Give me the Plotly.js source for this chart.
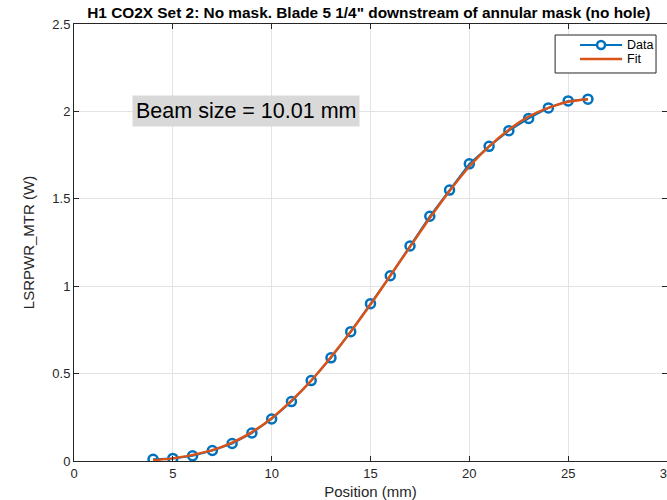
<!DOCTYPE html>
<html>
<head>
<meta charset="utf-8">
<script src="https://cdn.plot.ly/plotly-3.0.1.min.js"></script>
<style>html,body{margin:0;padding:0;background:#fff;}#chart{width:667px;height:500px;}</style>
</head>
<body>
<div id="chart"></div>
<script>
const positions = [4,5,6,7,8,9,10,11,12,13,14,15,16,17,18,19,20,21,22,23,24,25,26];
const dataValues = [0.01,0.015,0.03,0.06,0.10,0.16,0.24,0.34,0.46,0.59,0.74,0.90,1.06,1.23,1.40,1.55,1.70,1.80,1.89,1.96,2.02,2.06,2.07];
const fitValues = [0.005,0.015,0.035,0.062,0.105,0.165,0.245,0.345,0.46,0.595,0.74,0.895,1.06,1.225,1.39,1.545,1.685,1.80,1.895,1.97,2.02,2.055,2.07];
const xTicks = [0,5,10,15,20,25,30];
const yTicks = [0,0.5,1,1.5,2,2.5];
const yTickText = ['0','0.5','1','1.5','2','2.5'];
const seriesNames = ['Data', 'Fit'];
const beamText = 'Beam size = 10.01 mm';

const font = 'Liberation Sans, Arial, Helvetica, sans-serif';
const blue = '#0072BD', orange = '#D95319';
const traces = [
  {x: positions, y: dataValues, name: seriesNames[0], type: 'scatter', mode: 'lines+markers',
   line: {color: blue, width: 2},
   marker: {symbol: 'circle-open', size: 9, color: blue, line: {width: 2.5, color: blue}}},
  {x: positions, y: fitValues, name: seriesNames[1], type: 'scatter', mode: 'lines',
   line: {color: orange, width: 2.5, shape: 'spline'}}
];
const axisCommon = {
  showline: true, linecolor: '#262626', linewidth: 1, mirror: 'ticks',
  ticks: 'inside', ticklen: 5, tickcolor: '#262626',
  showgrid: true, gridcolor: '#e3e3e3', gridwidth: 1, zeroline: false,
  ticklabeloverflow: 'allow',
  tickfont: {family: font, size: 13, color: '#262626'}
};
// custom MATLAB-style legend box (paper coordinates)
const lg = {x0: 0.8113, x1: 0.9815, y0: 0.8879, y1: 0.9748,
            lx0: 0.8534, lx1: 0.9242, ly: [0.9519, 0.9199], tx: 0.9292};
const shapes = [
  {type: 'rect', xref: 'paper', yref: 'paper', x0: lg.x0, x1: lg.x1, y0: lg.y0, y1: lg.y1,
   fillcolor: '#fff', line: {color: '#262626', width: 1}},
  {type: 'line', xref: 'paper', yref: 'paper', x0: lg.lx0, x1: lg.lx1, y0: lg.ly[0], y1: lg.ly[0],
   line: {color: blue, width: 2}},
  {type: 'circle', xref: 'paper', yref: 'paper', x0: (lg.lx0+lg.lx1)/2 - 0.0067, x1: (lg.lx0+lg.lx1)/2 + 0.0067,
   y0: lg.ly[0] - 0.0092, y1: lg.ly[0] + 0.0092, fillcolor: '#fff', line: {color: blue, width: 2.5}},
  {type: 'line', xref: 'paper', yref: 'paper', x0: lg.lx0, x1: lg.lx1, y0: lg.ly[1], y1: lg.ly[1],
   line: {color: orange, width: 2.5}}
];
const annotations = [
  {x: 8.69, y: 2.0, xref: 'x', yref: 'y', text: beamText, showarrow: false,
   font: {family: font, size: 21.5, color: '#000'}, bgcolor: '#d9d9d9', borderpad: 3}
];
seriesNames.forEach((n, i) => annotations.push({
  xref: 'paper', yref: 'paper', x: lg.tx, y: lg.ly[i], xanchor: 'left', yanchor: 'middle',
  text: n, showarrow: false, font: {family: font, size: 12.5, color: '#000'}
}));
const layout = {
  width: 667, height: 500,
  margin: {l: 73.5, r: 0, t: 24, b: 39},
  paper_bgcolor: '#fff', plot_bgcolor: '#fff',
  font: {family: font, color: '#262626'},
  title: {text: '<b>H1 CO2X Set 2: No mask. Blade 5 1/4" downstream of annular mask (no hole)</b>',
          font: {family: font, size: 15.4, color: '#000'}, x: 0.553, xanchor: 'center', y: 0.975, yanchor: 'middle'},
  xaxis: Object.assign({}, axisCommon, {range: [0, 30], tickvals: xTicks,
    title: {text: 'Position (mm)', font: {family: font, size: 15, color: '#262626'}, standoff: 7}}),
  yaxis: Object.assign({}, axisCommon, {range: [0, 2.5], tickvals: yTicks, ticktext: yTickText,
    title: {text: 'LSRPWR_MTR (W)', font: {family: font, size: 15, color: '#262626'}, standoff: 14}}),
  showlegend: false,
  shapes: shapes,
  annotations: annotations
};
Plotly.newPlot('chart', traces, layout, {displayModeBar: false, staticPlot: true});
</script>
</body>
</html>
